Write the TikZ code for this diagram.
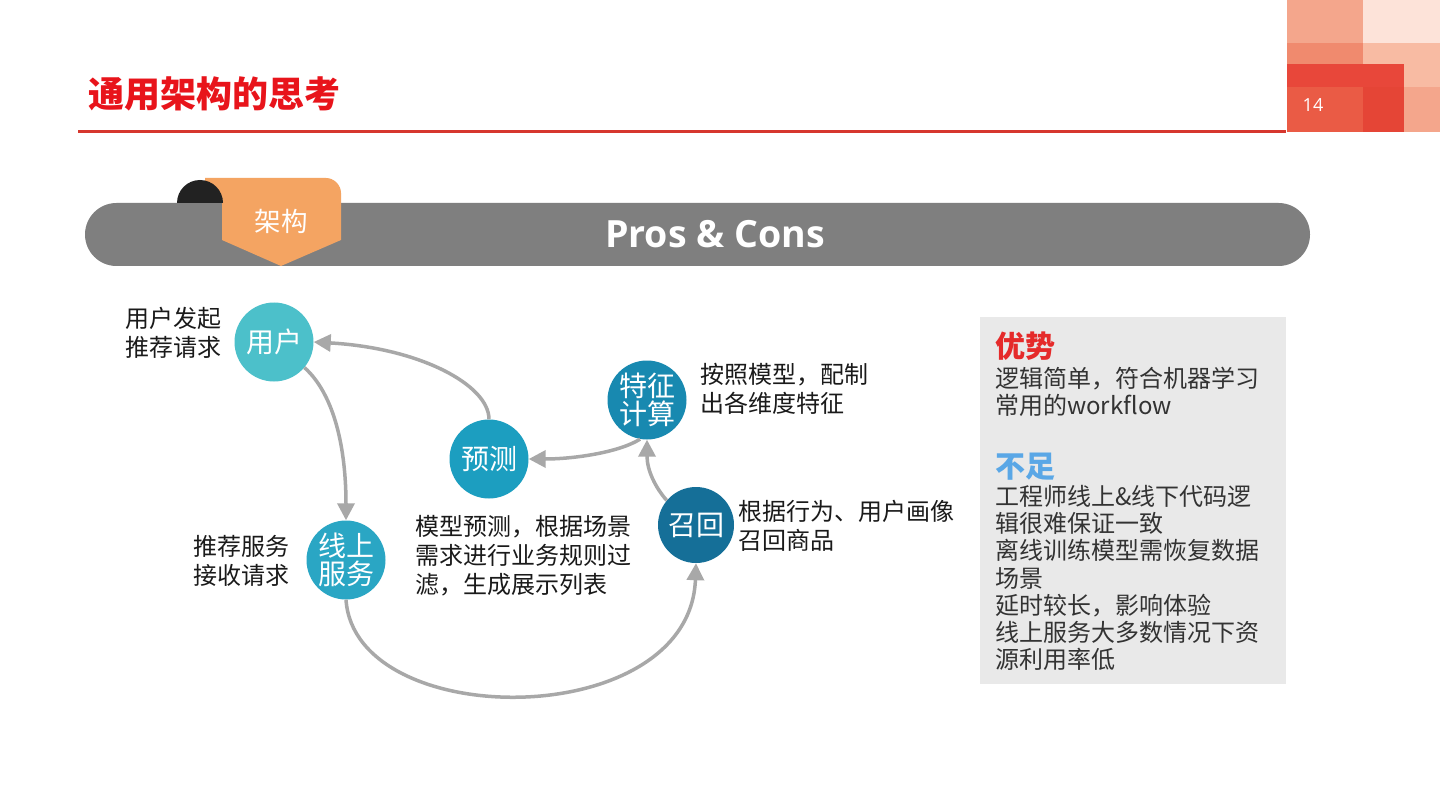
\documentclass[tikz,border=0pt]{standalone}
\usepackage{fontspec}
\setmainfont{Noto Sans CJK SC}
\newfontfamily\latinfont{Open Sans}
\usetikzlibrary{arrows.meta}

\definecolor{titlered}{HTML}{E8141B}
\definecolor{rulered}{HTML}{D6372E}
\definecolor{bannergray}{HTML}{7F7F7F}
\definecolor{tagorange}{HTML}{F4A462}
\definecolor{tagdark}{HTML}{222222}
\definecolor{sqa}{HTML}{F4A68C}
\definecolor{sqb}{HTML}{FDE3D9}
\definecolor{sqc}{HTML}{F08A6E}
\definecolor{sqd}{HTML}{F8BBA3}
\definecolor{sqe}{HTML}{E8473A}
\definecolor{sqf}{HTML}{EA5B45}
\definecolor{sqg}{HTML}{E54536}
\definecolor{userteal}{HTML}{4CC0CA}
\definecolor{svcteal}{HTML}{2AA6C4}
\definecolor{predteal}{HTML}{1C9EC0}
\definecolor{featblue}{HTML}{1889B0}
\definecolor{recblue}{HTML}{156F98}
\definecolor{arrowgray}{HTML}{A8A8A8}
\definecolor{txtblack}{HTML}{1A1A1A}
\definecolor{boxfill}{HTML}{E9E9E9}
\definecolor{boxgray}{HTML}{333333}
\definecolor{prosred}{HTML}{E52A2A}
\definecolor{consblue}{HTML}{5AA7E6}

\begin{document}
\begin{tikzpicture}[x=1pt, y=-1pt,
  stage/.style={circle,minimum size=79pt,inner sep=0pt,text=white,align=center,font=\fontsize{28}{28.5}\selectfont},
  note/.style={anchor=west,inner sep=0pt,align=left,text=txtblack,font=\fontsize{24}{29}\selectfont},
  boxtext/.style={anchor=west,inner sep=0pt,align=left,text=boxgray,font=\fontsize{24}{27.3}\selectfont},
  flow/.style={draw=arrowgray,line width=3.5pt,-{Triangle[length=17pt,width=17pt]}}]

\useasboundingbox (0,0) rectangle (1440,810);
\fill[white] (0,0) rectangle (1440,810);

% corner squares
\fill[sqa] (1287,0) rectangle (1363,43);
\fill[sqb] (1363,0) rectangle (1440,43);
\fill[sqc] (1287,43) rectangle (1363,64);
\fill[sqd] (1363,43) rectangle (1440,87);
\fill[sqe] (1287,64) rectangle (1404,87);
\fill[sqf] (1287,87) rectangle (1363,132);
\fill[sqg] (1363,87) rectangle (1404,132);
\fill[sqa] (1404,87) rectangle (1440,132);
\node[text=white,font=\latinfont\fontsize{18}{20}\selectfont] (pageno) at (1313,105) {14};

% title and rule
\node[anchor=west,inner sep=0pt,text=titlered,font=\bfseries\fontsize{36}{40}\selectfont] (title) at (88,94) {通用架构的思考};
\draw[rulered,line width=3pt] (78,132) -- (1286,132);

% banner with tag
\fill[bannergray,rounded corners=31.5pt] (85,203) rectangle (1310,266);
\fill[tagorange] (205,178) -- (326,178) .. controls (334,178) and (341,185) .. (341,193)
  -- (341,240) -- (281,266) -- (222,240) -- (222,203) -- (205,203) -- cycle;
\fill[tagdark] (177,203) arc[start angle=180,end angle=360,radius=23] -- cycle;
\node[text=white,font=\fontsize{26.5}{28}\selectfont] (tag) at (281,221) {架构};
\node[text=white,font=\latinfont\bfseries\fontsize{37.5}{40}\selectfont] (banner) at (715,234) {Pros \& Cons};

% stages
\node[stage,fill=userteal] (user) at (274,342) {用户};
\node[stage,fill=svcteal] (svc) at (346,560) {线上\\服务};
\node[stage,fill=predteal] (pred) at (489,459) {预测};
\node[stage,fill=featblue] (feat) at (647,400) {特征\\计算};
\node[stage,fill=recblue,minimum size=76pt] (rec) at (696,525) {召回};

% flows
\draw[flow] (user.-40) .. controls (335,395) and (346,450) .. (svc.north);
\draw[flow] (pred.north) .. controls (489,385) and (420,348) .. (user.east);
\draw[flow] (feat.-100) .. controls (620,452) and (575,459) .. (pred.east);
\draw[flow] (rec.140) .. controls (655,487) and (647,470) .. (feat.south);
\draw[flow] (svc.south) .. controls (355,733) and (690,733) .. (rec.south);

% notes
\node[note] (usernote) at (125,333) {用户发起\\推荐请求};
\node[note] (svcnote) at (193,561) {推荐服务\\接收请求};
\node[note] (prednote) at (415,556) {模型预测，根据场景\\需求进行业务规则过\\滤，生成展示列表};
\node[note] (featnote) at (700,389) {按照模型，配制\\出各维度特征};
\node[note] (recnote) at (738,525.5) {根据行为、用户画像\\召回商品};

% pros and cons box
\fill[boxfill] (980,317) rectangle (1286,684);
\node[anchor=west,inner sep=0pt,text=prosred,font=\bfseries\fontsize{30}{32}\selectfont] (proshead) at (995,346) {优势};
\node[boxtext] (prosbody) at (995,391.5) {逻辑简单，符合机器学习\\常用的workflow};
\node[anchor=west,inner sep=0pt,text=consblue,font=\bfseries\fontsize{30}{32}\selectfont] (conshead) at (995,467) {不足};
\node[boxtext] (consbody) at (995,578) {工程师线上\&线下代码逻\\辑很难保证一致\\离线训练模型需恢复数据\\场景\\延时较长，影响体验\\线上服务大多数情况下资\\源利用率低};
\end{tikzpicture}
\end{document}
